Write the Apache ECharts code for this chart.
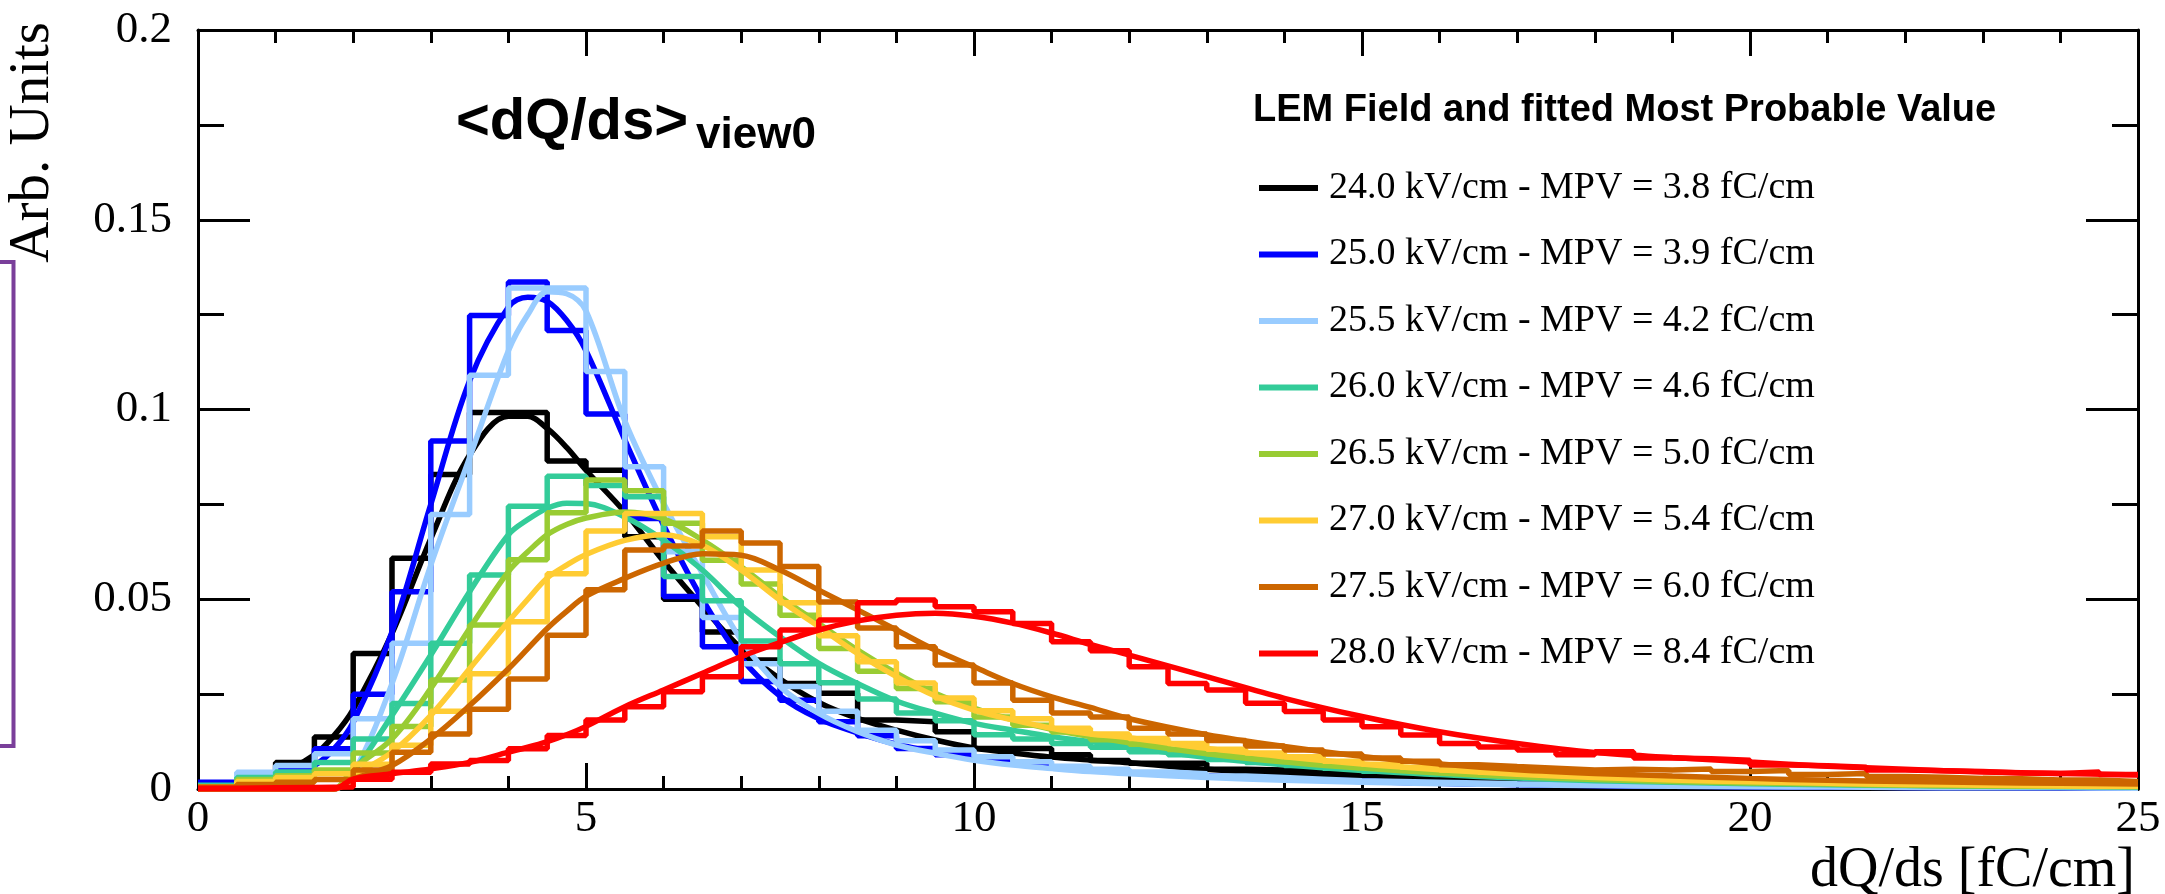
<!DOCTYPE html>
<html><head><meta charset="utf-8">
<script src="https://cdn.jsdelivr.net/npm/echarts@6/dist/echarts.min.js"></script>
<style>html,body{margin:0;padding:0;background:#fff}#c{width:2165px;height:894px}</style>
</head><body><div id="c"></div>
<script>
// ---------- data ----------
const seriesNames = [
  '24.0 kV/cm - MPV = 3.8 fC/cm',
  '25.0 kV/cm - MPV = 3.9 fC/cm',
  '25.5 kV/cm - MPV = 4.2 fC/cm',
  '26.0 kV/cm - MPV = 4.6 fC/cm',
  '26.5 kV/cm - MPV = 5.0 fC/cm',
  '27.0 kV/cm - MPV = 5.4 fC/cm',
  '27.5 kV/cm - MPV = 6.0 fC/cm',
  '28.0 kV/cm - MPV = 8.4 fC/cm'
];
const seriesColors = ['#000000','#0000ff','#99ccff','#33cc99','#99cc33','#ffcc33','#cc6600','#ff0000'];
const binWidth = 0.5; // 50 bins from 0 to 25

const h240 = [0.0005,0.0018,0.007,0.0137,0.0357,0.0608,0.0829,0.0992,0.0992,0.0864,
  0.084,0.0665,0.050,0.0414,0.034,0.0278,0.0252,0.0182,0.0177,0.0151,
  0.0107,0.0107,0.009,0.0075,0.0068,0.0068,0.0052,0.005,0.0046,0.004,
  0.0035,0.0032,0.0025,0.0022,0.002,0.0017,0.0015,0.0013,0.0012,0.001,
  0.0009,0.0008,0.0007,0.0007,0.0006,0.0005,0.0005,0.0004,0.0004,0.0004];
const h250 = [0.0018,0.003,0.005,0.0106,0.025,0.052,0.0917,0.1248,0.1336,0.1208,
  0.0988,0.0713,0.0507,0.0375,0.0283,0.0234,0.0177,0.014,0.0107,0.009,
  0.0078,0.0065,0.0058,0.005,0.0043,0.0038,0.0032,0.0028,0.0024,0.0021,
  0.0018,0.0015,0.0013,0.0012,0.001,0.0009,0.0008,0.0008,0.0007,0.0006,
  0.0006,0.0005,0.0005,0.0004,0.0004,0.0004,0.0003,0.0003,0.0003,0.0003];
const h255 = [0.0005,0.0044,0.0062,0.0093,0.0185,0.0384,0.0723,0.109,0.132,0.132,
  0.11,0.0849,0.0625,0.0452,0.033,0.027,0.0205,0.0155,0.0127,0.0103,
  0.0085,0.0072,0.006,0.0052,0.0045,0.004,0.0034,0.003,0.0026,0.0022,
  0.002,0.0018,0.0016,0.0014,0.0013,0.0012,0.0011,0.001,0.0009,0.0009,
  0.0008,0.0007,0.0007,0.0006,0.0006,0.0005,0.0005,0.0005,0.0004,0.0004];
const h260 = [0.001,0.003,0.0045,0.007,0.0132,0.0225,0.0384,0.0564,0.0745,0.0824,
  0.080,0.077,0.056,0.0496,0.039,0.033,0.028,0.0237,0.020,0.018,
  0.0143,0.0132,0.012,0.011,0.0098,0.009,0.0078,0.007,0.0062,0.0055,
  0.0047,0.0042,0.0037,0.0032,0.0028,0.0025,0.0022,0.002,0.0018,0.0016,
  0.0014,0.0013,0.0012,0.0011,0.001,0.0009,0.0008,0.0008,0.0007,0.0007];
const h265 = [0.0005,0.0025,0.0035,0.005,0.0095,0.0165,0.0287,0.0432,0.0604,0.0728,
  0.0814,0.0786,0.070,0.0603,0.054,0.0458,0.037,0.031,0.0265,0.023,
  0.019,0.0168,0.015,0.013,0.0118,0.0104,0.0093,0.0082,0.0073,0.0064,
  0.0057,0.005,0.0045,0.004,0.0035,0.003,0.0027,0.0025,0.0022,0.002,
  0.0018,0.0017,0.0015,0.0014,0.0013,0.0012,0.0011,0.001,0.001,0.0009];
const h270 = [0.0005,0.002,0.003,0.004,0.0065,0.0115,0.0205,0.0304,0.0441,0.0567,
  0.068,0.0726,0.0726,0.0665,0.0577,0.0491,0.0404,0.0335,0.0279,0.024,
  0.0206,0.0185,0.016,0.0145,0.0133,0.012,0.0105,0.0095,0.0085,0.0073,
  0.0065,0.0057,0.005,0.0044,0.0039,0.0034,0.003,0.0028,0.0025,0.0023,
  0.0021,0.002,0.0018,0.0017,0.0016,0.0015,0.0014,0.0013,0.0012,0.0012];
const h275 = [0.0005,0.0012,0.0018,0.0025,0.005,0.0097,0.0145,0.021,0.029,0.0405,
  0.0525,0.063,0.064,0.068,0.0648,0.0586,0.0493,0.0424,0.0375,0.0327,
  0.0279,0.0234,0.02,0.019,0.016,0.0145,0.0128,0.0113,0.0103,0.0092,
  0.0082,0.0073,0.0064,0.0059,0.0055,0.005,0.0052,0.005,0.0053,0.0046,
  0.0049,0.0038,0.0041,0.0033,0.0031,0.0028,0.0027,0.0024,0.0024,0.002];
const h280 = [0.0002,0.0003,0.0004,0.0005,0.0026,0.0044,0.0066,0.0075,0.0106,0.0141,
  0.0182,0.0217,0.0256,0.0296,0.0375,0.0419,0.0445,0.0491,0.0498,0.048,
  0.0467,0.0436,0.0388,0.0364,0.0322,0.0278,0.0261,0.0226,0.0204,0.0182,
  0.0164,0.0142,0.012,0.0111,0.0103,0.009,0.0098,0.0082,0.008,0.0076,
  0.0063,0.0061,0.0057,0.005,0.0048,0.0046,0.0042,0.0041,0.0045,0.0038];

// fitted curves, read at these x positions
const fitX = [0,0.5,1,1.5,1.75,2,2.5,3,3.5,4,4.25,4.5,4.75,5,5.5,6,6.5,7,7.5,8,8.5,9,9.5,10,10.5,11,11.5,12,13,14,15,16,17,18,19,20,21,22,23,24,25];
const f240 = [0.0001,0.0008,0.0035,0.009,0.014,0.021,0.041,0.066,0.088,0.0982,0.0982,0.095,0.090,0.084,0.073,0.060,0.048,0.037,0.029,0.0228,0.0186,0.0155,0.0129,0.0108,0.0095,0.0084,0.0076,0.0069,0.0052,0.0039,0.003,0.0023,0.0017,0.0013,0.001,0.0008,0.0006,0.0005,0.0004,0.0003,0.0003];
const f250 = [0.0001,0.0005,0.0018,0.0062,0.0105,0.0176,0.0414,0.075,0.1076,0.127,0.1296,0.1285,0.1235,0.1155,0.092,0.0695,0.050,0.0345,0.0245,0.0185,0.0148,0.0118,0.0097,0.008,0.0067,0.0058,0.0051,0.0043,0.0035,0.0026,0.002,0.0015,0.0012,0.0009,0.0007,0.0006,0.0005,0.0004,0.0003,0.0003,0.0002];
const f255 = [0,0,0,0,0,0.004,0.0278,0.059,0.0873,0.1155,0.125,0.131,0.1305,0.126,0.097,0.0753,0.0568,0.0393,0.027,0.0199,0.0151,0.0116,0.0094,0.0076,0.0063,0.0054,0.0046,0.004,0.003,0.0023,0.0018,0.0014,0.0011,0.0009,0.0007,0.0006,0.0005,0.0004,0.0003,0.0003,0.0002];
const f260 = [0,0,0,0,0,0.0044,0.0194,0.0353,0.052,0.067,0.071,0.074,0.0753,0.0752,0.0717,0.0656,0.0577,0.048,0.0401,0.0331,0.0278,0.0232,0.020,0.0173,0.0155,0.0138,0.0125,0.011,0.0083,0.0064,0.0049,0.0038,0.0029,0.0022,0.0018,0.0014,0.0011,0.0009,0.0007,0.0006,0.0005];
const f265 = [0,0,0,0,0,0.0053,0.0132,0.0265,0.0423,0.0573,0.0625,0.067,0.0697,0.0714,0.073,0.0712,0.0656,0.0586,0.0507,0.0436,0.0366,0.0305,0.0252,0.0213,0.0182,0.0157,0.0138,0.0122,0.0093,0.0071,0.0055,0.0042,0.0032,0.0025,0.002,0.0016,0.0013,0.001,0.0008,0.0007,0.0006];
const f270 = [0,0,0,0,0,0.0035,0.0097,0.0194,0.0317,0.0441,0.050,0.0556,0.059,0.0618,0.0655,0.067,0.0642,0.0577,0.0498,0.0428,0.0357,0.0296,0.0245,0.0208,0.0182,0.016,0.0145,0.0135,0.0107,0.0085,0.0066,0.0051,0.0039,0.003,0.0024,0.0019,0.0015,0.0012,0.001,0.0008,0.0007];
const f275 = [0,0,0,0,0,0.0026,0.0062,0.0132,0.022,0.0317,0.037,0.0423,0.0468,0.0508,0.0555,0.0595,0.062,0.0616,0.0577,0.0524,0.0472,0.0419,0.0366,0.0322,0.0278,0.0243,0.0215,0.0185,0.0143,0.0112,0.0086,0.0066,0.0051,0.0041,0.0034,0.0028,0.0023,0.002,0.0017,0.0015,0.0013];
const f280 = [0,0,0,0,0,0.0026,0.004,0.0053,0.007,0.0097,0.011,0.0125,0.0143,0.0165,0.0217,0.0261,0.0305,0.0349,0.0386,0.0419,0.0443,0.0458,0.0463,0.0455,0.0437,0.0411,0.0381,0.0353,0.0296,0.0239,0.0191,0.0151,0.012,0.0096,0.0083,0.0071,0.006,0.0052,0.0045,0.0041,0.0037];

const hists = [h240,h250,h255,h260,h265,h270,h275,h280];
const fits  = [f240,f250,f255,f260,f265,f270,f275,f280];

// ---------- build ----------
function histData(vals){
  const d = vals.map((v,i)=>[i*binWidth, v]);
  d.push([vals.length*binWidth, vals[vals.length-1]]);
  return d;
}
const series = [];
seriesNames.forEach((name,i)=>{
  const c = seriesColors[i];
  series.push({type:'line', name, step:'end', data:histData(hists[i]), symbol:'none', showSymbol:false,
    lineStyle:{color:c, width:5.5}, itemStyle:{color:c}, emphasis:{disabled:true}, z:2+i*2, animation:false});
  series.push({type:'line', name, smooth:0.35, data:fitX.map((x,j)=>[x, fits[i][j]]), symbol:'none', showSymbol:false,
    lineStyle:{color:c, width:5.5}, itemStyle:{color:c}, emphasis:{disabled:true}, z:3+i*2, animation:false});
});

const axisLineStyle = {color:'#000', width:3};
const labelFont = {fontFamily:'Liberation Serif', fontSize:45, color:'#000'};

const option = {
  animation:false,
  backgroundColor:'#fff',
  grid:{left:198, right:27, top:30, bottom:105, containLabel:false, outerBoundsMode:'none'},
  xAxis:[
    {type:'value', min:0, max:25, interval:5, position:'bottom',
     axisLine:{show:true, onZero:false, lineStyle:axisLineStyle},
     axisTick:{show:true, inside:true, length:26, lineStyle:axisLineStyle},
     minorTick:{show:true, splitNumber:5, length:13, lineStyle:axisLineStyle},
     axisLabel:Object.assign({margin:8}, labelFont),
     splitLine:{show:false}},
    {type:'value', min:0, max:25, interval:5, position:'top',
     axisLine:{show:true, onZero:false, lineStyle:axisLineStyle},
     axisTick:{show:true, inside:true, length:26, lineStyle:axisLineStyle},
     minorTick:{show:true, splitNumber:5, length:13, lineStyle:axisLineStyle},
     axisLabel:{show:false}, splitLine:{show:false}}
  ],
  yAxis:[
    {type:'value', min:0, max:0.2, interval:0.05, position:'left',
     axisLine:{show:true, onZero:false, lineStyle:axisLineStyle},
     axisTick:{show:true, inside:true, length:52, lineStyle:axisLineStyle},
     minorTick:{show:true, splitNumber:2, length:26, lineStyle:axisLineStyle},
     axisLabel:Object.assign({margin:26}, labelFont),
     splitLine:{show:false}},
    {type:'value', min:0, max:0.2, interval:0.05, position:'right',
     axisLine:{show:true, onZero:false, lineStyle:axisLineStyle},
     axisTick:{show:true, inside:true, length:52, lineStyle:axisLineStyle},
     minorTick:{show:true, splitNumber:2, length:26, lineStyle:axisLineStyle},
     axisLabel:{show:false}, splitLine:{show:false}}
  ],
  legend:{
    data:seriesNames.map((n,i)=>({name:n, icon:'rect', itemStyle:{color:seriesColors[i]}})),
    orient:'vertical', left:1254, top:163, itemWidth:59, itemHeight:6, itemGap:26.5,
    selectedMode:false,
    textStyle:{fontFamily:'Liberation Serif', fontSize:38, color:'#000', lineHeight:40, padding:[0,0,0,6]}
  },
  graphic:[
    {type:'text', x:456, y:123, silent:true, style:{text:'<dQ/ds>', font:'bold 58px "Liberation Sans"', fill:'#000', align:'left', verticalAlign:'middle'}},
    {type:'text', x:696, y:136, silent:true, style:{text:'view0', font:'bold 44px "Liberation Sans"', fill:'#000', align:'left', verticalAlign:'middle'}},
    {type:'text', x:1253, y:111, silent:true, style:{text:'LEM Field and fitted Most Probable Value', font:'bold 38px "Liberation Sans"', fill:'#000', align:'left', verticalAlign:'middle'}},
    {type:'text', x:33, y:22, rotation:Math.PI/2, silent:true, style:{text:'Arb. Units', font:'57px "Liberation Serif"', fill:'#000', align:'right', verticalAlign:'middle'}},
    {type:'text', x:2135, y:871, silent:true, style:{text:'dQ/ds [fC/cm]', font:'56px "Liberation Serif"', fill:'#000', align:'right', verticalAlign:'middle'}},
    {type:'rect', silent:true, shape:{x:-20, y:262, width:33.5, height:484}, style:{fill:'none', stroke:'#7a3f9a', lineWidth:4}}
  ],
  series
};
const chart = echarts.init(document.getElementById('c'), null, {renderer:'canvas'});
chart.setOption(option);
</script></body></html>
